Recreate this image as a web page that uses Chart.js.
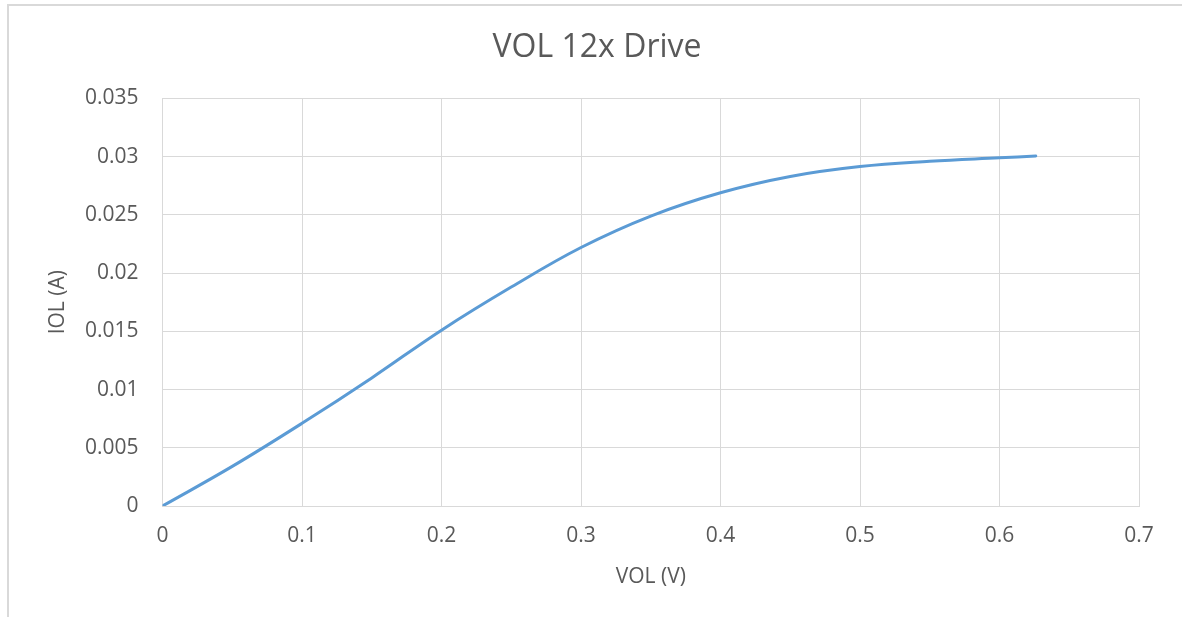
<!DOCTYPE html>
<html>
<head>
<meta charset="utf-8">
<title>VOL 12x Drive</title>
<script src="https://cdn.jsdelivr.net/npm/chart.js@4.4.1/dist/chart.umd.min.js"></script>
<style>
  html, body { margin: 0; padding: 0; background: #fff; }
  #wrap { position: relative; width: 1182px; height: 617px; overflow: hidden; }
  /* chart frame, only top and left edges fall inside the page */
  #frame {
    position: absolute; left: 7px; top: 4px; width: 1300px; height: 700px;
    border-left: 2px solid #d9d9d9; border-top: 2px solid #d9d9d9;
  }
  canvas { position: absolute; left: 0; top: 0; }
</style>
</head>
<body>
<div id="wrap">
  <div id="frame"></div>
  <canvas id="chart" width="1182" height="617"></canvas>
</div>
<script>
// IOL vs VOL measurement, 12x drive strength
const vol = [0, 0.05, 0.1, 0.15, 0.2, 0.25, 0.3, 0.35, 0.4, 0.45, 0.5, 0.55, 0.6, 0.626];
const iol = [0, 0.0034, 0.0071, 0.0110, 0.0151, 0.0188, 0.0222, 0.0249, 0.0269, 0.0283, 0.02915, 0.0296, 0.0299, 0.03005];

const xTicks = [0, 0.1, 0.2, 0.3, 0.4, 0.5, 0.6, 0.7];
const yTicks = [0, 0.005, 0.01, 0.015, 0.02, 0.025, 0.03, 0.035];

const textColor = '#595959';
const gridColor = '#d9d9d9';
const fontFamily = '"Open Sans", sans-serif';

Chart.defaults.font.family = fontFamily;
Chart.defaults.color = textColor;

const ctx = document.getElementById('chart').getContext('2d');

new Chart(ctx, {
  type: 'line',
  data: {
    datasets: [{
      data: vol.map((v, i) => ({ x: v, y: iol[i] })),
      borderColor: '#5b9bd5',
      borderWidth: 3,
      borderCapStyle: 'round',
      pointRadius: 0,
      fill: false,
      tension: 0.4
    }]
  },
  options: {
    responsive: false,
    animation: false,
    layout: { padding: { left: 55, right: 43, top: 0, bottom: 0 } },
    plugins: {
      legend: { display: false },
      tooltip: { enabled: false },
      title: {
        display: true,
        text: 'VOL 12x Drive',
        color: textColor,
        font: { size: 32, weight: 'normal' },
        padding: { top: 29, bottom: 31 }
      }
    },
    scales: {
      x: {
        type: 'linear',
        min: xTicks[0],
        max: xTicks[xTicks.length - 1],
        afterBuildTicks: s => { s.ticks = xTicks.map(v => ({ value: v })); },
        afterFit: s => { s.height = 111; },
        grid: { color: gridColor, drawTicks: false },
        border: { color: gridColor },
        ticks: {
          padding: 17,
          font: { size: 21 },
          callback: v => String(+v.toFixed(3))
        },
        title: {
          display: true,
          text: 'VOL (V)',
          font: { size: 21 },
          padding: { top: 0, bottom: 27 }
        }
      },
      y: {
        type: 'linear',
        min: yTicks[0],
        max: yTicks[yTicks.length - 1],
        afterBuildTicks: s => { s.ticks = yTicks.map(v => ({ value: v })); },
        afterFit: s => { s.width = 107.5; },
        grid: { color: gridColor, drawTicks: false },
        border: { color: gridColor },
        ticks: {
          padding: 24,
          font: { size: 21 },
          callback: v => String(+v.toFixed(4))
        },
        title: {
          display: true,
          text: 'IOL (A)',
          font: { size: 21 },
          padding: { top: -10, bottom: 0 }
        }
      }
    }
  }
});
</script>
</body>
</html>
